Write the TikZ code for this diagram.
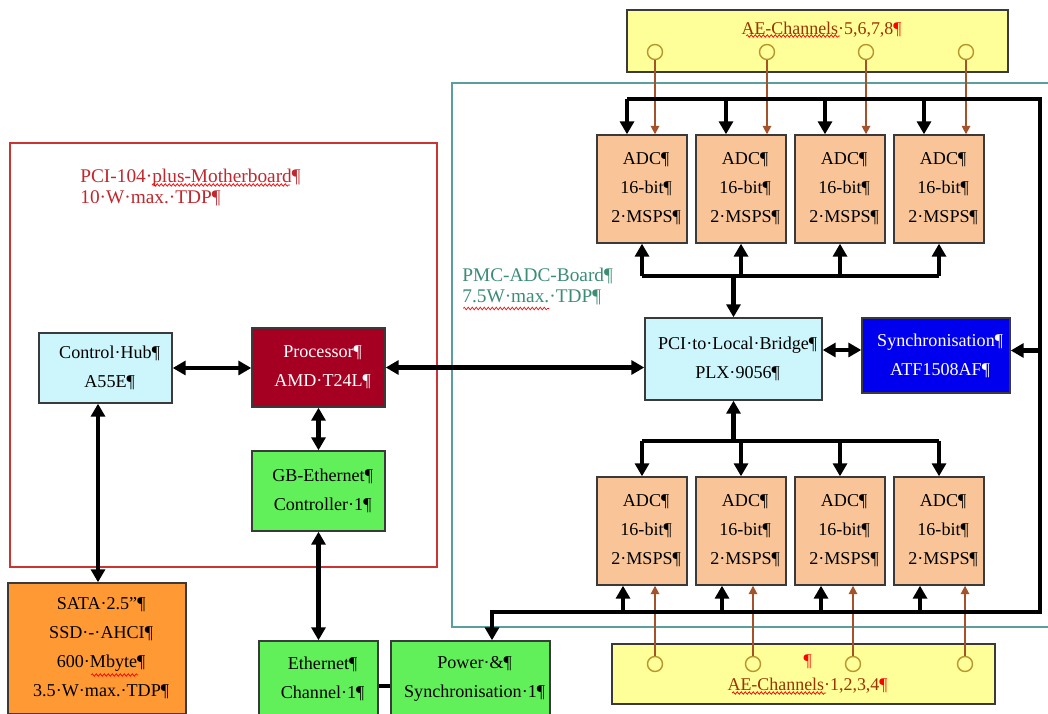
\documentclass[tikz,border=0pt]{standalone}
\usepackage{fontspec}
\setmainfont{Liberation Serif}
\usetikzlibrary{positioning, arrows.meta, decorations.pathmorphing}

\definecolor{mbred}{HTML}{CC3333}
\definecolor{mbtext}{HTML}{C0282D}
\definecolor{pmcteal}{HTML}{5A9E9E}
\definecolor{pmctext}{HTML}{3C8C78}
\definecolor{hubcyan}{HTML}{CCF6FC}
\definecolor{cpured}{HTML}{A50021}
\definecolor{ethgreen}{HTML}{62F05A}
\definecolor{sataorange}{HTML}{FF9933}
\definecolor{adcpeach}{HTML}{F9C497}
\definecolor{syncblue}{HTML}{0000EE}
\definecolor{aeyellow}{HTML}{FFFF99}
\definecolor{aebrown}{HTML}{A5522A}
\definecolor{aetext}{HTML}{993300}
\definecolor{pingold}{HTML}{B8962E}
\definecolor{boxline}{HTML}{3A3A3A}

% pilcrow hangs out of the line, as in the word view
\newcommand{\pmark}{\rlap{¶}}
\newcommand{\redpmark}{\rlap{\color{red}¶}}

\begin{document}
\begin{tikzpicture}[>={Triangle[width=2.8mm,length=2.6mm]},
    box/.style = {draw=boxline, line width=0.8pt, align=center, font=\fontsize{10.3}{16.5}\selectfont},
    adc/.style = {box, fill=adcpeach, minimum width=1.8cm, minimum height=2.16cm},
    title/.style = {align=left, inner sep=0pt, font=\fontsize{11}{12.5}\selectfont},
    bus/.style = {line width=2.4pt},
    sig/.style = {draw=aebrown, line width=1pt, -{Triangle[width=1.7mm,length=1.7mm]}},
    pin/.style = {draw=pingold, fill=aeyellow, circle, minimum size=3mm, inner sep=0pt, line width=0.8pt},
    spell/.style = {red, line width=0.4pt, decorate, decoration={snake, amplitude=0.25mm, segment length=0.8mm}},
    node distance={19.8mm}]
    \useasboundingbox (0,0) rectangle (20.96,14.26);
    \clip (0,0) rectangle (20.96,14.26);

    % board frames
    \draw[mbred, line width=0.6pt] (0.20,2.92) rectangle (8.74,11.40);
    \draw[pmcteal, line width=0.6pt] (9.04,1.72) rectangle (21.40,12.60);
    \node[title, text=mbtext, anchor=west] (mbtitle) at (1.60,10.51) {PCI-104·plus-Motherboard¶\\10·W·max.·TDP¶};
    \node[title, text=pmctext, anchor=west] (pmctitle) at (9.24,8.53) {PMC-ADC-Board¶\\7.5W·max.·TDP¶};

    % motherboard side
    \node[box, fill=hubcyan, minimum width=2.66cm, minimum height=1.4cm] (hub) at (2.11,6.90) {Control·Hub\pmark\\A55E\pmark};
    \node[box, fill=cpured, text=white, minimum width=2.66cm, minimum height=1.58cm] (cpu) at (6.37,6.91) {Processor\pmark\\AMD·T24L\pmark};
    \node[box, fill=ethgreen, minimum width=2.66cm, minimum height=1.6cm] (gbe) [below of=cpu, yshift=-4.9mm] {GB-Ethernet\pmark\\Controller·1\pmark};
    \node[box, fill=sataorange, minimum width=3.56cm, minimum height=2.62cm] (sata) at (1.94,1.29) {SATA·2.5”\pmark\\SSD·-·AHCI\pmark\\600·Mbyte\pmark\\3.5·W·max.·TDP\pmark};
    \node[box, fill=ethgreen, minimum width=2.38cm, minimum height=1.5cm] (eth) at (6.37,0.69) {Ethernet\pmark\\Channel·1\pmark};
    \node[box, fill=ethgreen, minimum width=3.18cm, minimum height=1.5cm] (pwr) at (9.41,0.69) {Power·\&\pmark\\Synchronisation·1\pmark};

    % adc board
    \node[box, fill=hubcyan, minimum width=3.54cm, minimum height=1.64cm] (bridge) at (14.67,7.08) {PCI·to·Local·Bridge\pmark\\PLX·9056\pmark};
    \node[box, fill=syncblue, text=white, minimum width=2.96cm, minimum height=1.5cm] (sync) at (18.72,7.15) {Synchronisation\pmark\\ATF1508AF\pmark};
    \node[adc] (adc5) at (12.84,10.48) {ADC\pmark\\16-bit\pmark\\2·MSPS\pmark};
    \node[adc] (adc6) [right of=adc5] {ADC\pmark\\16-bit\pmark\\2·MSPS\pmark};
    \node[adc] (adc7) [right of=adc6] {ADC\pmark\\16-bit\pmark\\2·MSPS\pmark};
    \node[adc] (adc8) [right of=adc7] {ADC\pmark\\16-bit\pmark\\2·MSPS\pmark};
    \node[adc] (adc1) [below of=adc5, yshift=-48.6mm] {ADC\pmark\\16-bit\pmark\\2·MSPS\pmark};
    \node[adc] (adc2) [right of=adc1] {ADC\pmark\\16-bit\pmark\\2·MSPS\pmark};
    \node[adc] (adc3) [right of=adc2] {ADC\pmark\\16-bit\pmark\\2·MSPS\pmark};
    \node[adc] (adc4) [right of=adc3] {ADC\pmark\\16-bit\pmark\\2·MSPS\pmark};

    % AE channel inputs
    \node[box, fill=aeyellow, minimum width=7.62cm, minimum height=1.24cm] (ae58) at (16.35,13.44) {};
    \node[text=aetext, font=\fontsize{10.2}{12}\selectfont] (ae58txt) at (16.35,13.66) {AE-Channels·5,6,7,8\redpmark};
    \node[box, fill=aeyellow, text=aetext, minimum width=7.66cm, minimum height=1.2cm, font=\fontsize{10.2}{14.2}\selectfont] (ae14) at (16.07,0.78) {\redpmark\\AE-Channels·1,2,3,4\redpmark};
    \node[pin] (pin5) at (13.10,13.22) {};
    \node[pin] (pin6) at (15.34,13.22) {};
    \node[pin] (pin7) at (17.32,13.22) {};
    \node[pin] (pin8) at (19.32,13.22) {};
    \node[pin] (pin1) at (13.10,0.98) {};
    \node[pin] (pin2) at (15.06,0.98) {};
    \node[pin] (pin3) at (17.06,0.98) {};
    \node[pin] (pin4) at (19.30,0.98) {};

    \draw[sig] (pin5) -- (pin5 |- adc5.north);
    \draw[sig] (pin6) -- (pin6 |- adc6.north);
    \draw[sig] (pin7) -- (pin7 |- adc7.north);
    \draw[sig] (pin8) -- (pin8 |- adc8.north);
    \draw[sig] (pin1) -- (pin1 |- adc1.south);
    \draw[sig] (pin2) -- (pin2 |- adc2.south);
    \draw[sig] (pin3) -- (pin3 |- adc3.south);
    \draw[sig] (pin4) -- (pin4 |- adc4.south);

    % spell check marks
    \draw[spell] (3.04,10.56) -- (5.80,10.56);
    \draw[spell] (9.26,8.09) -- (10.98,8.09);
    \draw[spell] (1.82,0.76) -- (2.76,0.76);
    \draw[spell] (14.92,13.54) -- (16.80,13.54);
    \draw[spell] (14.64,0.40) -- (16.52,0.40);

    % motherboard links
    \draw[bus, <->] (hub.east) -- (hub.east -| cpu.west);
    \draw[bus, <->] (cpu.east) -- (cpu.east -| bridge.west);
    \draw[bus, <->] (cpu.south) -- (gbe.north);
    \draw[bus, <->] (gbe.south) -- (eth.north);
    \draw[bus, <->] ([xshift=-1.5mm]hub.south) -- ([xshift=-1.5mm]hub.south |- sata.north);
    \draw[bus] ([yshift=-1.5mm]eth.east) -- ([yshift=-1.5mm]eth.east -| pwr.west);

    % local bus to the adcs
    \coordinate (tbus) at ([yshift=8.2mm]bridge.north);
    \coordinate (bbus) at ([yshift=-8mm]bridge.south);
    \draw[bus, ->] (tbus) -- (bridge.north);
    \draw[bus] (adc5.south |- tbus) -- (adc8.south |- tbus);
    \draw[bus, ->] (adc5.south |- tbus) -- (adc5.south);
    \draw[bus, ->] (adc6.south |- tbus) -- (adc6.south);
    \draw[bus, ->] (adc7.south |- tbus) -- (adc7.south);
    \draw[bus, ->] (adc8.south |- tbus) -- (adc8.south);
    \draw[bus, ->] (bbus) -- (bridge.south);
    \draw[bus] (adc1.north |- bbus) -- (adc4.north |- bbus);
    \draw[bus, ->] (adc1.north |- bbus) -- (adc1.north);
    \draw[bus, ->] (adc2.north |- bbus) -- (adc2.north);
    \draw[bus, ->] (adc3.north |- bbus) -- (adc3.north);
    \draw[bus, ->] (adc4.north |- bbus) -- (adc4.north);
    \draw[bus, <->] ([yshift=1.8mm]bridge.east) -- ([yshift=1.8mm]bridge.east -| sync.west);

    % sync loop
    \coordinate (tl) at ([xshift=-3mm]adc5.north |- 0,12.28);
    \coordinate (tr) at (20.80,12.28);
    \coordinate (br) at (20.80,2.02);
    \coordinate (bl) at (9.84,2.02);
    \draw[bus, ->] (tl) -- (tr) -- (br) -- (bl) -- (bl |- pwr.north);
    \draw[bus, ->] (tl) -- ([xshift=-3mm]adc5.north);
    \draw[bus, ->] ([xshift=-3mm]adc6.north |- tl) -- ([xshift=-3mm]adc6.north);
    \draw[bus, ->] ([xshift=-3mm]adc7.north |- tl) -- ([xshift=-3mm]adc7.north);
    \draw[bus, ->] ([xshift=-3mm]adc8.north |- tl) -- ([xshift=-3mm]adc8.north);
    \draw[bus, ->] ([xshift=-3.8mm]adc1.south |- bl) -- ([xshift=-3.8mm]adc1.south);
    \draw[bus, ->] ([xshift=-3.8mm]adc2.south |- bl) -- ([xshift=-3.8mm]adc2.south);
    \draw[bus, ->] ([xshift=-3.8mm]adc3.south |- bl) -- ([xshift=-3.8mm]adc3.south);
    \draw[bus, ->] ([xshift=-3.8mm]adc4.south |- bl) -- ([xshift=-3.8mm]adc4.south);
    \draw[bus, ->] ([yshift=1mm]br |- sync.east) -- ([yshift=1mm]sync.east);
\end{tikzpicture}
\end{document}
